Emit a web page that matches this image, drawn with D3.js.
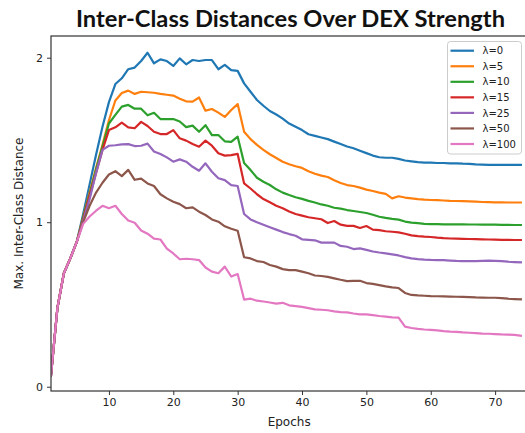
<!DOCTYPE html>
<html><head><meta charset="utf-8">
<script src="https://cdn.jsdelivr.net/npm/d3@7"></script>
<style>body{margin:0;background:#fff}svg{display:block}</style>
</head><body><svg id="c" width="525" height="433"></svg>
<script>
const title = "Inter-Class Distances Over DEX Strength";
const xLabel = "Epochs";
const yLabel = "Max. Inter-Class Distance";
const seriesNames = ["λ=0","λ=5","λ=10","λ=15","λ=25","λ=50","λ=100"];
const seriesColors = ["#1f77b4","#ff7f0e","#2ca02c","#d62728","#9467bd","#8c564b","#e377c2"];
const xTicks = [10,20,30,40,50,60,70];
const yTicks = [0,1,2];
const epochs = d3.range(1,75);
const lam0 = [0.07,0.48,0.69,0.78,0.88,1.05,1.23,1.41,1.58,1.73,1.84,1.875,1.93,1.94,1.98,2.03,1.966,1.99,1.98,1.95,1.996,1.96,1.986,1.98,1.986,1.986,1.93,1.956,1.925,1.92,1.844,1.793,1.743,1.708,1.676,1.655,1.63,1.60,1.58,1.56,1.535,1.525,1.515,1.505,1.49,1.475,1.46,1.45,1.435,1.42,1.405,1.395,1.392,1.392,1.385,1.375,1.37,1.365,1.362,1.362,1.36,1.36,1.358,1.358,1.356,1.355,1.352,1.35,1.348,1.348,1.348,1.348,1.348,1.348];
const lam5 = [0.07,0.48,0.69,0.78,0.88,1.03,1.18,1.33,1.47,1.62,1.74,1.785,1.80,1.78,1.793,1.79,1.787,1.78,1.775,1.77,1.75,1.735,1.733,1.758,1.678,1.688,1.666,1.64,1.682,1.718,1.55,1.505,1.47,1.44,1.413,1.39,1.368,1.352,1.34,1.33,1.31,1.295,1.283,1.275,1.255,1.238,1.226,1.22,1.21,1.198,1.19,1.18,1.172,1.145,1.158,1.15,1.145,1.14,1.137,1.135,1.134,1.132,1.13,1.129,1.128,1.127,1.125,1.123,1.122,1.121,1.121,1.12,1.12,1.12];
const lam10 = [0.07,0.48,0.69,0.78,0.88,1.03,1.17,1.32,1.46,1.60,1.652,1.703,1.713,1.69,1.69,1.65,1.665,1.627,1.627,1.627,1.612,1.578,1.587,1.55,1.59,1.53,1.53,1.492,1.488,1.52,1.36,1.317,1.27,1.246,1.226,1.2,1.18,1.165,1.152,1.142,1.13,1.12,1.108,1.1,1.088,1.083,1.074,1.068,1.062,1.056,1.045,1.033,1.026,1.02,1.016,1.004,0.998,0.994,0.99,0.989,0.988,0.987,0.987,0.987,0.987,0.986,0.986,0.985,0.985,0.985,0.984,0.984,0.983,0.983];
const lam15 = [0.07,0.48,0.69,0.78,0.88,1.02,1.16,1.30,1.44,1.56,1.577,1.605,1.577,1.571,1.61,1.585,1.55,1.536,1.536,1.56,1.51,1.496,1.475,1.459,1.496,1.465,1.419,1.405,1.408,1.415,1.236,1.205,1.17,1.141,1.121,1.1,1.085,1.065,1.05,1.04,1.03,1.024,1.018,0.995,1.007,0.985,0.978,0.978,0.965,0.977,0.955,0.952,0.945,0.942,0.938,0.93,0.92,0.915,0.912,0.91,0.906,0.903,0.901,0.9,0.899,0.898,0.897,0.896,0.895,0.894,0.893,0.893,0.892,0.892];
const lam25 = [0.07,0.48,0.69,0.78,0.88,1.01,1.14,1.30,1.44,1.465,1.468,1.473,1.475,1.463,1.465,1.478,1.43,1.415,1.394,1.368,1.382,1.368,1.337,1.313,1.358,1.307,1.267,1.256,1.226,1.22,1.05,1.017,1.0,0.985,0.97,0.955,0.94,0.928,0.918,0.896,0.893,0.89,0.876,0.876,0.876,0.856,0.851,0.837,0.841,0.832,0.822,0.816,0.811,0.805,0.798,0.788,0.78,0.776,0.773,0.771,0.77,0.769,0.767,0.765,0.764,0.763,0.764,0.765,0.766,0.765,0.763,0.76,0.758,0.756];
const lam50 = [0.07,0.48,0.69,0.78,0.88,1.0,1.10,1.18,1.24,1.29,1.31,1.28,1.318,1.258,1.265,1.236,1.22,1.17,1.145,1.125,1.11,1.085,1.09,1.064,1.044,1.017,1.003,0.975,0.96,0.948,0.787,0.78,0.764,0.758,0.74,0.73,0.715,0.709,0.709,0.70,0.69,0.676,0.673,0.668,0.659,0.65,0.642,0.643,0.644,0.63,0.625,0.618,0.61,0.604,0.60,0.57,0.558,0.555,0.553,0.551,0.55,0.549,0.548,0.547,0.546,0.545,0.543,0.542,0.541,0.541,0.538,0.535,0.533,0.531];
const lam100 = [0.07,0.48,0.69,0.78,0.88,0.99,1.035,1.07,1.10,1.085,1.10,1.05,1.01,0.997,0.95,0.93,0.90,0.895,0.84,0.81,0.775,0.778,0.775,0.77,0.725,0.70,0.69,0.73,0.67,0.685,0.53,0.535,0.523,0.518,0.512,0.505,0.51,0.495,0.49,0.485,0.478,0.47,0.468,0.465,0.458,0.454,0.452,0.445,0.44,0.44,0.435,0.43,0.426,0.422,0.42,0.365,0.357,0.352,0.348,0.345,0.342,0.338,0.335,0.333,0.33,0.328,0.326,0.323,0.322,0.32,0.318,0.317,0.315,0.31];
const seriesValues = [lam0,lam5,lam10,lam15,lam25,lam50,lam100];

const svg = d3.select("#c");
const L=51, R=527.3, T=36, B=391;
const x = d3.scaleLinear().domain([1,75]).range([L,R]);
const y = d3.scaleLinear().domain([-0.026,2.132]).range([B,T]);
const font = "'DejaVu Sans', sans-serif";

svg.append("defs").append("clipPath").attr("id","clip")
  .append("rect").attr("x",L).attr("y",T).attr("width",R-L).attr("height",B-T);

const line = d3.line().x((d,i)=>x(epochs[i])).y(d=>y(d));
const g = svg.append("g").attr("clip-path","url(#clip)");
seriesValues.forEach((vals,k)=>{
  g.append("path").datum(vals).attr("d",line).attr("fill","none")
   .attr("stroke",seriesColors[k]).attr("stroke-width",2.2)
   .attr("stroke-linejoin","round").attr("stroke-linecap","square");
});

// axes
const xa = svg.append("g").attr("transform",`translate(0,${B})`)
  .call(d3.axisBottom(x).tickValues(xTicks).tickSize(4).tickPadding(3).tickFormat(d3.format("d")));
const ya = svg.append("g").attr("transform",`translate(${L},0)`)
  .call(d3.axisLeft(y).tickValues(yTicks).tickSize(4).tickPadding(4).tickFormat(d3.format("d")));
[xa,ya].forEach(a=>{
  a.select(".domain").remove();
  a.selectAll("line").attr("stroke","#333").attr("stroke-width",1);
  a.selectAll("text").attr("font-family",font).attr("font-size",11).attr("fill","#222");
});
svg.append("rect").attr("x",L).attr("y",T).attr("width",R-L).attr("height",B-T)
  .attr("fill","none").attr("stroke","#333").attr("stroke-width",1.2);

svg.append("text").attr("x",(L+R)/2).attr("y",426).attr("text-anchor","middle")
  .attr("font-family",font).attr("font-size",12).attr("fill","#222").text(xLabel);
svg.append("text").attr("transform",`translate(23,${(T+B)/2}) rotate(-90)`).attr("text-anchor","middle")
  .attr("font-family",font).attr("font-size",12).attr("fill","#222").text(yLabel);

svg.append("text").attr("x",290.5).attr("y",27).attr("text-anchor","middle")
  .attr("font-family","Lato, sans-serif").attr("font-weight","bold").attr("font-size",22)
  .attr("textLength",429).attr("lengthAdjust","spacingAndGlyphs").attr("fill","#111").text(title);

// legend
const lg = svg.append("g");
lg.append("rect").attr("x",447.5).attr("y",41.5).attr("width",74).attr("height",112.5)
  .attr("rx",3).attr("fill","#fff").attr("fill-opacity",0.85).attr("stroke","#ccc").attr("stroke-width",1);
seriesNames.forEach((n,k)=>{
  const yy = 50.7 + k*15.55;
  lg.append("line").attr("x1",450.5).attr("x2",474).attr("y1",yy).attr("y2",yy)
    .attr("stroke",seriesColors[k]).attr("stroke-width",2.2);
  lg.append("text").attr("x",482.5).attr("y",yy+3.6).attr("font-family",font).attr("font-size",10)
    .attr("fill","#222").text(n);
});
</script></body></html>
